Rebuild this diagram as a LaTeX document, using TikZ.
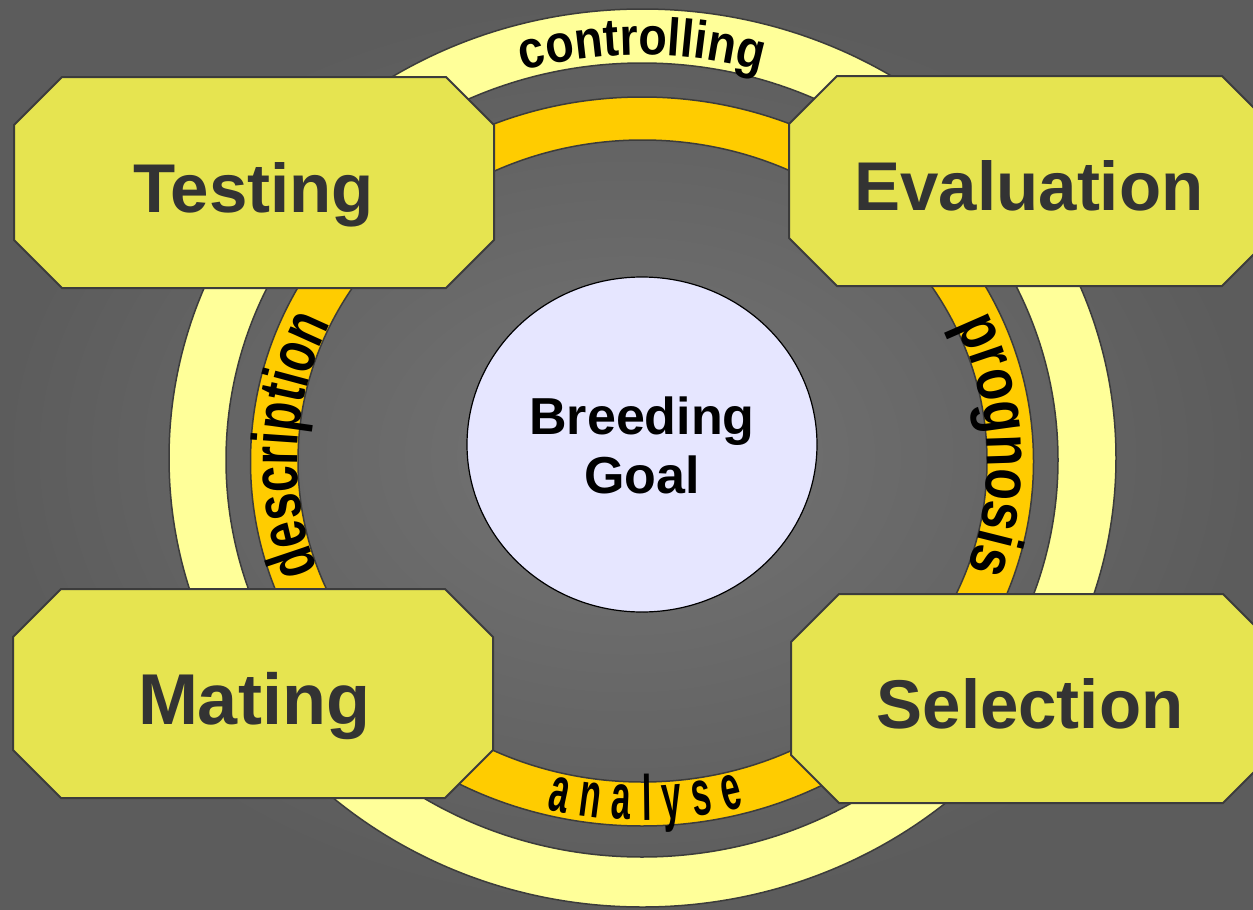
\documentclass[tikz,border=0pt]{standalone}
\usepackage{fontspec}
\setmainfont{Liberation Sans}
\newfontfamily\ctrlfont[FakeStretch=0.88]{Liberation Sans}
\newfontfamily\descfont[FakeStretch=0.73]{Liberation Sans}
\newfontfamily\progfont[FakeStretch=0.80]{Liberation Sans}
\newfontfamily\analfont[FakeStretch=0.55]{Liberation Sans}
\usetikzlibrary{decorations.text,shapes.geometric,calc}
\definecolor{bgin}{RGB}{116,116,116}
\definecolor{bgout}{RGB}{92,92,92}
\definecolor{ringlight}{RGB}{255,255,153}
\definecolor{ringorange}{RGB}{255,204,0}
\definecolor{boxfill}{RGB}{230,228,80}
\definecolor{edgegray}{RGB}{60,60,60}
\definecolor{goalfill}{RGB}{230,230,255}
\definecolor{labelgray}{RGB}{51,51,51}
\newcommand\ctrlfmt{\ctrlfont\bfseries\fontsize{53}{53}\selectfont}
\newcommand\descfmt{\descfont\bfseries\fontsize{65}{65}\selectfont}
\newcommand\progfmt{\progfont\bfseries\fontsize{65}{65}\selectfont}
\newcommand\analfmt{\analfont\bfseries\fontsize{64}{64}\selectfont}
\newcommand\octbox[4]{%
  \draw[boxshape] (#1+48,#2) -- (#3-48,#2) -- (#3,#2+48) -- (#3,#4-48) --
    (#3-48,#4) -- (#1+48,#4) -- (#1,#4-48) -- (#1,#2+48) -- cycle;}
\begin{document}
\begin{tikzpicture}[x=1pt,y=-1pt,
  ringlightstyle/.style={fill=ringlight, draw=edgegray, line width=1.5pt, even odd rule},
  ringorangestyle/.style={fill=ringorange, draw=edgegray, line width=1.5pt, even odd rule},
  boxshape/.style={fill=boxfill, draw=edgegray, line width=2pt, line join=miter},
  boxlabel/.style={font=\bfseries\fontsize{69}{69}\selectfont, text=labelgray, anchor=base, inner sep=0pt},
  goalstyle/.style={ellipse, minimum width=350pt, minimum height=335pt, fill=goalfill,
    draw=black, line width=1.2pt, align=center, inner sep=0pt,
    font=\bfseries\fontsize{52}{59}\selectfont, text=black}]
\useasboundingbox (0,0) rectangle (1253,910);
\shade[inner color=bgin, outer color=bgout] (0,0) rectangle (1253,910);

% rings
\coordinate (lyo) at (642.5,458);
\coordinate (lyi) at (642,460);
\coordinate (oro) at (642,461.5);
\coordinate (ori) at (642.5,461);
\path[ringlightstyle] (lyo) ellipse [x radius=473.5, y radius=449]
                      (lyi) ellipse [x radius=416, y radius=397];
\path[ringorangestyle] (oro) ellipse [x radius=391.5, y radius=364.5]
                       (ori) ellipse [x radius=344.5, y radius=321];

% ring texts
\coordinate (tc) at (642,458);
\path[decorate, decoration={text along path, text color=black, text align=center,
      text={|\ctrlfmt|controlling}}]
  ($(tc)+(240:427 and 403)$) arc[start angle=240, end angle=300, x radius=427, y radius=403];
\path[decorate, decoration={text along path, text color=black, text align=center,
      text={|\descfmt|description}}]
  ($(ori)+(152.7:345 and 322)$) arc[start angle=152.7, end angle=212.7, x radius=345, y radius=322];
\path[decorate, decoration={text along path, text color=black, text align=center,
      text={|\progfmt|prognosis}}]
  ($(ori)+(-32.7:345 and 322)$) arc[start angle=-32.7, end angle=27.3, x radius=345, y radius=322];
\path[decorate, decoration={text along path, text color=black, text align=fit to path,
      text={|\analfmt|analyse}}]
  ($(oro)+(104.3:385 and 358.5)$) arc[start angle=104.3, end angle=74.5, x radius=385, y radius=358.5];

% centre
\node[goalstyle] (goal) at (642,444.5) {\raisebox{-8pt}[\height][\depth]{\begin{tabular}{@{}c@{}}Breeding\\[0pt]Goal\end{tabular}}};

% boxes
\octbox{14}{77}{494}{288}
\octbox{789}{76}{1270}{286}
\octbox{791}{594}{1271}{803}
\octbox{13}{589}{493}{798}
\node[boxlabel] (testing) at (254,212) {Testing};
\node[boxlabel] (evaluation) at (1029,210) {Evaluation};
\node[boxlabel] (selection) at (1030,728) {Selection};
\node[boxlabel, font=\bfseries\fontsize{72}{72}\selectfont] (mating) at (254,724) {Mating};
\end{tikzpicture}
\end{document}
